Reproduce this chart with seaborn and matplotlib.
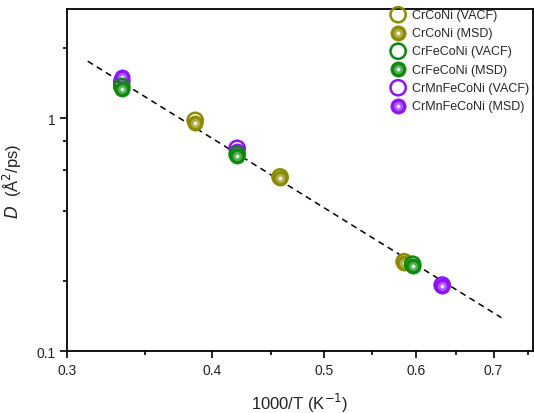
import numpy as np
import pandas as pd
import seaborn as sns
import matplotlib.pyplot as plt
from matplotlib.legend_handler import HandlerTuple

# values (x = 1000/T in 1/K, D in A^2/ps)
cocr_x = [0.387, 0.458, 0.586]
cocr_vacf = [0.98, 0.56, 0.242]
cocr_msd = [0.955, 0.553, 0.240]

fe_x = [0.3345, 0.4206, 0.596]
fe_vacf = [1.37, 0.70, 0.236]
fe_msd = [1.34, 0.687, 0.233]

mn_x = [0.3345, 0.4206, 0.632]
mn_vacf = [1.44, 0.743, 0.192]
mn_msd = [1.50, 0.725, 0.190]

fit_x = [0.3126, 0.711]
fit_y = [1.76, 0.139]

names = ["CrCoNi", "CrFeCoNi", "CrMnFeCoNi"]
colors = {"CrCoNi": "#8c8c00", "CrFeCoNi": "#0a8a0a", "CrMnFeCoNi": "#8f0fff"}

rows = []
for name, xs, v, m in [("CrCoNi", cocr_x, cocr_vacf, cocr_msd),
                       ("CrFeCoNi", fe_x, fe_vacf, fe_msd),
                       ("CrMnFeCoNi", mn_x, mn_vacf, mn_msd)]:
    for xi, vi, mi in zip(xs, v, m):
        rows.append((name, "VACF", xi, vi))
        rows.append((name, "MSD", xi, mi))
df = pd.DataFrame(rows, columns=["alloy", "method", "x", "D"])

sns.set_style("ticks")
plt.rcParams["font.family"] = ["Liberation Sans", "DejaVu Sans"]

fig = plt.figure(figsize=(5.34, 4.14), dpi=100)
ax = fig.add_axes([67 / 534, 1 - 352 / 414, 466 / 534, 342 / 414])
ax.set_xscale("log")
ax.set_yscale("log")

ax.plot(fit_x, fit_y, ls=(0, (4, 3)), color="black", lw=1.1, zorder=1)

for name in ["CrCoNi", "CrMnFeCoNi", "CrFeCoNi"]:
    c = colors[name]
    sub = df[df.alloy == name]
    v = sub[sub.method == "VACF"]
    m = sub[sub.method == "MSD"]
    sns.scatterplot(x=v.x.values, y=v.D.values, ax=ax, s=120, marker="o",
                    facecolor="none", edgecolor=c, linewidth=1.8, zorder=3)
    sns.scatterplot(x=m.x.values, y=m.D.values, ax=ax, s=120, marker="o",
                    color=c, edgecolor=c, linewidth=0.5, zorder=3)
    sns.scatterplot(x=m.x.values, y=m.D.values, ax=ax, s=45, marker="o",
                    color="white", alpha=0.3, linewidth=0, zorder=3)
    sns.scatterplot(x=m.x.values, y=m.D.values, ax=ax, s=8, marker="o",
                    color="white", alpha=0.85, linewidth=0, zorder=3)

handles = {}
for name in names:
    c = colors[name]
    ho = ax.scatter([], [], s=120, facecolor="none", edgecolor=c, linewidth=1.8)
    hf = ax.scatter([], [], s=120, color=c, linewidth=0.5)
    hl = ax.scatter([], [], s=45, color="white", alpha=0.3, linewidth=0)
    hd = ax.scatter([], [], s=8, color="white", alpha=0.85, linewidth=0)
    handles[name + " (VACF)"] = ho
    handles[name + " (MSD)"] = (hf, hl, hd)

ax.legend(list(handles.values()), list(handles.keys()),
          handler_map={tuple: HandlerTuple(ndivide=1, pad=0)},
          loc="upper left", bbox_to_anchor=((390 - 67) / 466, 1 - 0 / 342),
          frameon=False, fontsize=9, handlelength=1.3, handletextpad=0.5,
          labelspacing=0.5, borderpad=0, borderaxespad=0)

ax.set_xlim(0.3, 0.757)
ax.set_ylim(0.1, 2.95)
ax.set_xticks([0.3, 0.4, 0.5, 0.6, 0.7])
ax.set_xticklabels(["0.3", "0.4", "0.5", "0.6", "0.7"])
ax.set_xticks([0.35, 0.45, 0.55, 0.65, 0.75], minor=True)
ax.set_xticklabels([], minor=True)
ax.set_yticks([0.1, 1])
ax.set_yticklabels(["0.1", "1"])
ax.set_yticks([0.2, 0.4, 0.6, 0.8, 2], minor=True)
ax.set_yticklabels([], minor=True)

ax.tick_params(axis="both", which="major", direction="out", length=5, width=1.2,
               labelsize=10, color="black", labelcolor="#222222")
ax.tick_params(axis="both", which="minor", direction="out", length=3, width=1.2,
               color="black")
for sp in ax.spines.values():
    sp.set_linewidth(1.3)
    sp.set_color("black")

ax.set_xlabel("1000/T (K$^{-1}$)", fontsize=12, labelpad=10, color="#222222")
ax.set_ylabel("$D$  (Å$^2$/ps)", fontsize=12, labelpad=9, color="#222222")

fig.savefig("out.png", dpi=100)
